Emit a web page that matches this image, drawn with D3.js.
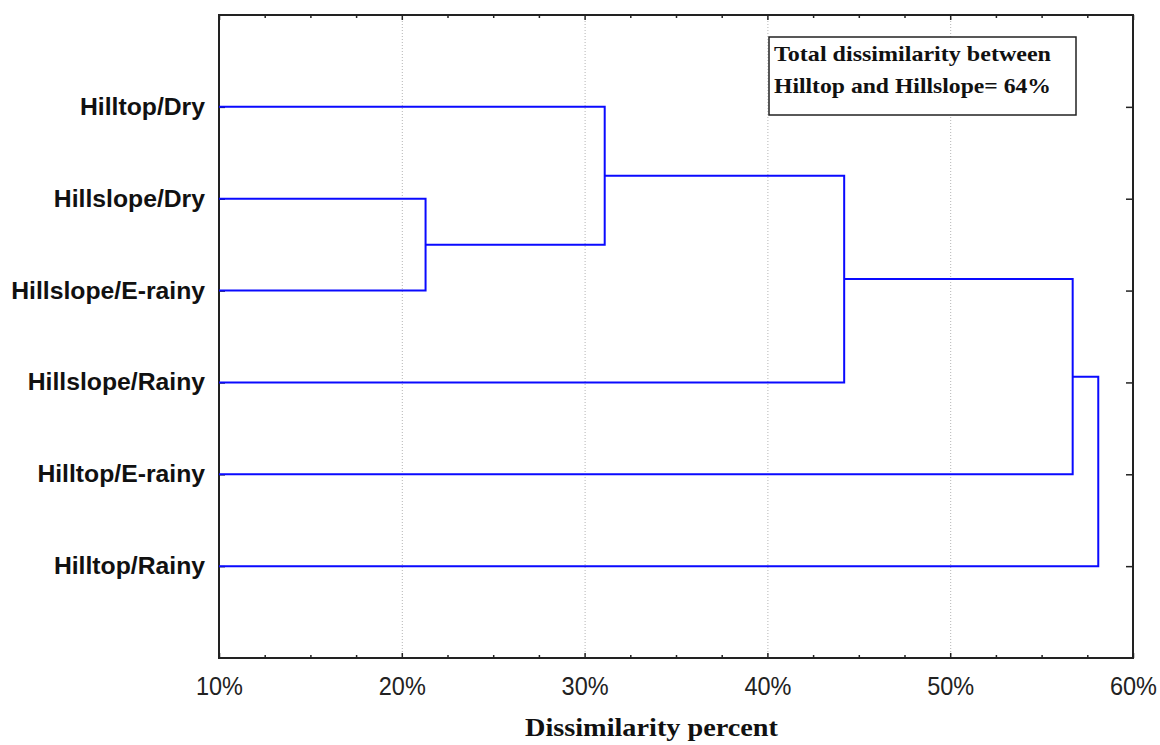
<!DOCTYPE html>
<html>
<head>
<meta charset="utf-8">
<script src="https://cdn.jsdelivr.net/npm/d3@7"></script>
<style>
  html, body { margin: 0; padding: 0; background: #fff; }
  svg { display: block; }
</style>
</head>
<body>
<svg id="chart" width="1160" height="745"></svg>
<script>
// ---- data ----
const leafLabels = ["Hilltop/Dry", "Hillslope/Dry", "Hillslope/E-rainy", "Hillslope/Rainy", "Hilltop/E-rainy", "Hilltop/Rainy"];
// merges: index < 6 refers to leaf, index >= 6 refers to cluster created by merge (index - 6)
const mergeA = [1, 0, 7, 8, 9];
const mergeB = [2, 6, 3, 4, 5];
const mergeHeight = [21.3, 31.1, 44.2, 56.7, 58.1];
const xTickValues = [10, 20, 30, 40, 50, 60];
const xTickLabels = ["10%", "20%", "30%", "40%", "50%", "60%"];
const xTitle = "Dissimilarity percent";
const noteLines = ["Total dissimilarity between", "Hilltop and Hillslope= 64%"];

// ---- layout ----
const svg = d3.select("#chart");
const L = 219, R = 1133, T = 15, B = 658;
const x = d3.scaleLinear().domain([10, 60]).range([L, R]);
const y = d3.scaleLinear().domain([0, leafLabels.length + 1]).range([T, B]);

// gridlines
svg.append("g").selectAll("line")
  .data(xTickValues.slice(1, -1))
  .join("line")
  .attr("x1", d => x(d) + 0.5).attr("x2", d => x(d) + 0.5)
  .attr("y1", T).attr("y2", B)
  .attr("stroke", "#b4b4b4").attr("stroke-width", 1)
  .attr("stroke-dasharray", "1,2");

// minor ticks values
const minorVals = d3.range(10, 60.01, 2.5).filter(v => !xTickValues.includes(v));

function inwardAxis(axisFn, scale, vals, size, transform) {
  const g = svg.append("g").attr("transform", transform)
    .call(axisFn(scale).tickValues(vals).tickSize(size).tickFormat(""));
  g.select(".domain").remove();
  g.selectAll("line").attr("stroke", "#222").attr("stroke-width", 1.5);
  return g;
}
inwardAxis(d3.axisBottom, x, xTickValues, -5, `translate(0,${B})`);
inwardAxis(d3.axisBottom, x, minorVals, -3, `translate(0,${B})`);
inwardAxis(d3.axisTop, x, xTickValues, -5, `translate(0,${T})`);
inwardAxis(d3.axisTop, x, minorVals, -3, `translate(0,${T})`);
const rowVals = leafLabels.map((d, i) => i + 1);
inwardAxis(d3.axisLeft, y, rowVals, -6, `translate(${L},0)`);
inwardAxis(d3.axisRight, y, rowVals, -7, `translate(${R},0)`);

// bottom tick labels
const tickLab = svg.append("g").attr("transform", `translate(0,${B})`)
  .call(d3.axisBottom(x).tickValues(xTickValues).tickSize(0).tickPadding(0)
    .tickFormat((d, i) => xTickLabels[i]));
tickLab.select(".domain").remove();
tickLab.selectAll("text")
  .attr("y", 37).attr("dy", 0)
  .attr("font-family", "'Liberation Sans', Arial, sans-serif")
  .attr("font-size", 25).attr("fill", "#222")
  .attr("textLength", 47).attr("lengthAdjust", "spacingAndGlyphs");

// left labels
svg.append("g").selectAll("text")
  .data(leafLabels)
  .join("text")
  .attr("x", 205)
  .attr("y", (d, i) => y(i + 1) + 8)
  .attr("text-anchor", "end")
  .attr("font-family", "'Liberation Sans', Arial, sans-serif")
  .attr("font-weight", "bold")
  .attr("font-size", 23)
  .attr("fill", "#111")
  .text(d => d)
  .each(function() {
    const w = this.getComputedTextLength();
    d3.select(this).attr("textLength", w * 1.075).attr("lengthAdjust", "spacingAndGlyphs");
  });

// frame
svg.append("rect")
  .attr("x", L).attr("y", T).attr("width", R - L).attr("height", B - T)
  .attr("fill", "none").attr("stroke", "#222").attr("stroke-width", 2);

// dendrogram
const nodeX = [], nodeY = [];
leafLabels.forEach((d, i) => { nodeX[i] = 10; nodeY[i] = i + 1; });
const links = [];
mergeHeight.forEach((h, k) => {
  const a = mergeA[k], b = mergeB[k];
  links.push({ ax: nodeX[a], ay: nodeY[a], bx: nodeX[b], by: nodeY[b], h });
  const id = leafLabels.length + k;
  nodeX[id] = h;
  nodeY[id] = (nodeY[a] + nodeY[b]) / 2;
});
svg.append("g").selectAll("path")
  .data(links)
  .join("path")
  .attr("d", d => `M${x(d.ax)},${y(d.ay)}H${x(d.h)}V${y(d.by)}H${x(d.bx)}`)
  .attr("fill", "none")
  .attr("stroke", "#0a0aff")
  .attr("stroke-width", 2);

// x title
svg.append("text")
  .attr("x", 651.5).attr("y", 736)
  .attr("text-anchor", "middle")
  .attr("font-family", "'Liberation Serif', 'Times New Roman', serif")
  .attr("font-weight", "bold").attr("font-size", 25)
  .attr("fill", "#111")
  .attr("textLength", 253).attr("lengthAdjust", "spacingAndGlyphs")
  .text(xTitle);

// annotation box
svg.append("rect")
  .attr("x", 769).attr("y", 37).attr("width", 307).attr("height", 78)
  .attr("fill", "#fff").attr("stroke", "#222").attr("stroke-width", 1.5);
const noteLens = [277, 277];
svg.append("g").selectAll("text")
  .data(noteLines)
  .join("text")
  .attr("x", 774)
  .attr("y", (d, i) => 61 + i * 32)
  .attr("font-family", "'Liberation Serif', 'Times New Roman', serif")
  .attr("font-weight", "bold").attr("font-size", 22)
  .attr("fill", "#111")
  .attr("textLength", (d, i) => noteLens[i]).attr("lengthAdjust", "spacingAndGlyphs")
  .text(d => d);
</script>
</body>
</html>
